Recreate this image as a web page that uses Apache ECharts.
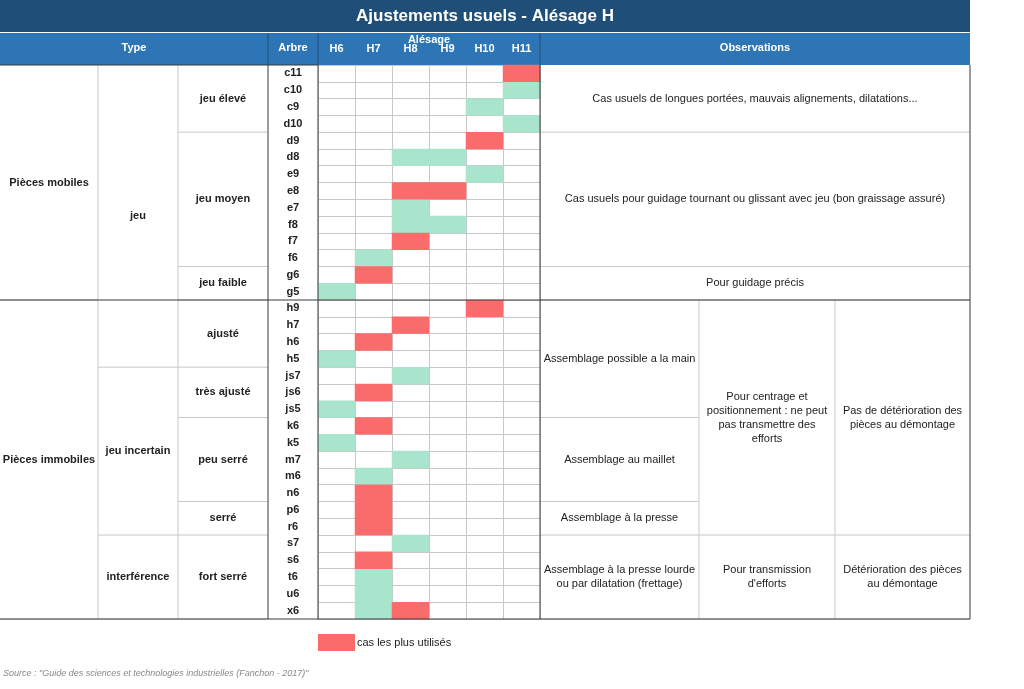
<!DOCTYPE html>
<html lang="fr">
<head>
<meta charset="UTF-8">
<title>Ajustements usuels - Alésage H</title>
<script src="https://cdn.jsdelivr.net/npm/echarts@6.0.0/dist/echarts.min.js"></script>
<style>
  html, body { margin: 0; padding: 0; background: #fff; }
  #main { width: 1024px; height: 689px; }
</style>
</head>
<body>
<div id="main"></div>
<script>
// colonnes d'alésage et arbres
const alesages = ['H6', 'H7', 'H8', 'H9', 'H10', 'H11'];
const arbres = ['c11','c10','c9','d10','d9','d8','e9','e8','e7','f8','f7','f6','g6','g5',
  'h9','h7','h6','h5','js7','js6','js5','k6','k5','m7','m6','n6','p6','r6','s7','s6','t6','u6','x6'];
// ajustements possibles (vert) et les plus utilisés (rouge)
const possibles = [['c10','H11'],['c9','H10'],['d10','H11'],['d8','H8'],['d8','H9'],['e9','H10'],
  ['e7','H8'],['f8','H8'],['f8','H9'],['f6','H7'],['g5','H6'],['h5','H6'],['js7','H8'],['js5','H6'],
  ['k5','H6'],['m7','H8'],['m6','H7'],['s7','H8'],['t6','H7'],['u6','H7'],['x6','H7']];
const utilises = [['c11','H11'],['d9','H10'],['e8','H8'],['e8','H9'],['f7','H8'],['g6','H7'],
  ['h9','H10'],['h7','H8'],['h6','H7'],['js6','H7'],['k6','H7'],['n6','H7'],['p6','H7'],['r6','H7'],
  ['s6','H7'],['x6','H8']];
// regroupements [libellé, première ligne, dernière ligne]
const typeNiv1 = [['Pièces mobiles', 0, 13], ['Pièces immobiles', 14, 32]];
const typeNiv2 = [['jeu', 0, 17], ['jeu incertain', 18, 27], ['interférence', 28, 32]];
const typeNiv3 = [['jeu élevé', 0, 3], ['jeu moyen', 4, 11], ['jeu faible', 12, 13], ['ajusté', 14, 17],
  ['très ajusté', 18, 20], ['peu serré', 21, 25], ['serré', 26, 27], ['fort serré', 28, 32]];
const obsHaut = [['Cas usuels de longues portées, mauvais alignements, dilatations...', 0, 3],
  ['Cas usuels pour guidage tournant ou glissant avec jeu (bon graissage assuré)', 4, 11],
  ['Pour guidage précis', 12, 13]];
const obsMontage = [['Assemblage possible a la main', 14, 20], ['Assemblage au maillet', 21, 25],
  ['Assemblage à la presse', 26, 27], ['Assemblage à la presse lourde\nou par dilatation (frettage)', 28, 32]];
const obsEfforts = [['Pour centrage et\npositionnement : ne peut\npas transmettre des\nefforts', 14, 27],
  ['Pour transmission\nd\'efforts', 28, 32]];
const obsDemontage = [['Pas de détérioration des\npièces au démontage', 14, 27],
  ['Détérioration des pièces\nau démontage', 28, 32]];

const top0 = 65, bottom0 = 619, rowH = (bottom0 - top0) / arbres.length;
const yAt = i => top0 + i * rowH;
const font = '"Liberation Sans", Arial, sans-serif';
const dark = '#3a3a3a', light = '#c8c8c8';
const g = [];

function hline(x1, x2, y, c, w) { g.push({type: 'line', shape: {x1, y1: y, x2, y2: y}, style: {stroke: c, lineWidth: w || 1}, z: 10}); }
function vline(x, y1, y2, c, w) { g.push({type: 'line', shape: {x1: x, y1, x2: x, y2}, style: {stroke: c, lineWidth: w || 1}, z: 10}); }
function label(txt, x, y, opt) {
  g.push({type: 'text', x, y, z: 11, style: Object.assign({text: txt, font: '11px ' + font, fill: '#222',
    align: 'center', verticalAlign: 'middle', lineHeight: 14}, opt || {})});
}
function groups(list, x1, x2, bold) {
  list.forEach(([t, a, b]) => {
    label(t, (x1 + x2) / 2, (yAt(a) + yAt(b + 1)) / 2, bold ? {font: 'bold 11px ' + font} : {});
    hline(x1, x2, yAt(b + 1), light);
  });
}

// titre et en-têtes
g.push({type: 'rect', shape: {x: 0, y: 0, width: 970, height: 32}, style: {fill: '#1f4e79'}});
label('Ajustements usuels - Alésage H', 485, 16, {font: 'bold 17px ' + font, fill: '#fff'});
g.push({type: 'rect', shape: {x: 0, y: 33, width: 970, height: 32}, style: {fill: '#2e75b6'}});
const hdr = {font: 'bold 11px ' + font, fill: '#fff'};
label('Type', 134, 48, hdr);
label('Arbre', 293, 48, hdr);
label('Alésage', 429, 40, hdr);
label('Observations', 755, 48, hdr);
[268, 318, 540].forEach(x => vline(x, 33, 65, '#1f4e79'));

groups(typeNiv1, 0, 98, true);
groups(typeNiv2, 98, 178, true);
groups(typeNiv3, 178, 268, true);
groups(obsHaut, 540, 970, false);
groups(obsMontage, 540, 699, false);
groups(obsEfforts, 699, 835, false);
groups(obsDemontage, 835, 970, false);
vline(98, top0, bottom0, light);
vline(178, top0, bottom0, light);
vline(699, yAt(14), bottom0, light);
vline(835, yAt(14), bottom0, light);
vline(268, top0, bottom0, dark);
vline(318, top0, bottom0, dark);
vline(540, top0, bottom0, dark);
vline(970, top0, bottom0, dark);
hline(0, 970, yAt(14), dark);
hline(0, 970, bottom0, dark);
hline(0, 318, top0, dark);

// légende et source
g.push({type: 'rect', shape: {x: 318, y: 634, width: 37, height: 17}, style: {fill: '#fa6b6b'}});
label('cas les plus utilisés', 357, 643, {align: 'left'});
label('Source : "Guide des sciences et technologies industrielles (Fanchon - 2017)"', 3, 673,
  {align: 'left', font: 'italic 9px ' + font, fill: '#888'});

const data = possibles.map(([a, h]) => [alesages.indexOf(h), arbres.indexOf(a), 1])
  .concat(utilises.map(([a, h]) => [alesages.indexOf(h), arbres.indexOf(a), 2]));

const chart = echarts.init(document.getElementById('main'));
chart.setOption({
  animation: false,
  grid: {left: 318, right: 1024 - 540, top: top0, height: bottom0 - top0},
  xAxis: {
    type: 'category', data: alesages, position: 'top', offset: 3,
    axisLine: {show: false}, axisTick: {show: false},
    axisLabel: {color: '#fff', fontWeight: 'bold', fontSize: 11, fontFamily: font},
    splitLine: {show: true, interval: 0, lineStyle: {color: light}}
  },
  yAxis: {
    type: 'category', data: arbres, inverse: true,
    axisLine: {show: false}, axisTick: {show: false},
    axisLabel: {margin: 25, align: 'center', color: '#222', fontWeight: 'bold', fontSize: 11, fontFamily: font},
    splitLine: {show: true, interval: 0, lineStyle: {color: light}}
  },
  visualMap: {
    show: false, type: 'piecewise', dimension: 2,
    pieces: [{value: 1, color: '#a9e4cd'}, {value: 2, color: '#fa6b6b'}]
  },
  series: [{type: 'heatmap', data, itemStyle: {borderWidth: 0}}],
  graphic: g
});
</script>
</body>
</html>
